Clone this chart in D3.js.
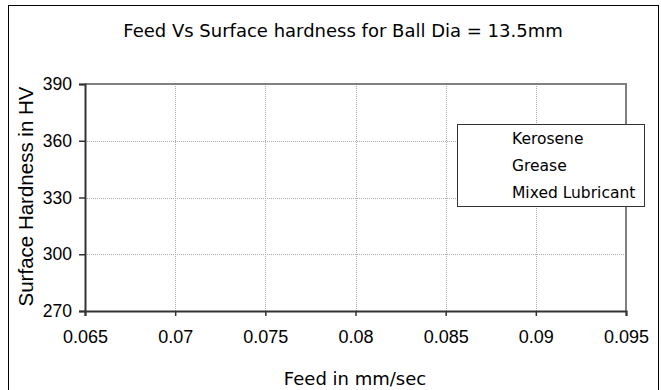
<!DOCTYPE html>
<html lang="en">
<head>
  <meta charset="UTF-8">
  <script src="https://cdn.jsdelivr.net/npm/d3@7"></script>
  <title>Feed Vs Surface hardness</title>
  <style>
    body { margin: 0; background: #fff; }
  </style>
</head>
<body>
  <svg class="svg" width="661" height="390"></svg>
  <script>
    // chart data (series are drawn without visible marks in the source)
    const seriesNames = ["Kerosene", "Grease", "Mixed Lubricant"]
    const xTicks = [0.065, 0.07, 0.075, 0.08, 0.085, 0.09, 0.095]
    const yTicks = [270, 300, 330, 360, 390]

    let svg = d3.select(".svg")
    let margin = ({top: 84, right: 35, bottom: 79, left: 85})
    let width = +svg.attr("width")
    let height = +svg.attr("height")

    // outer chart border
    svg.append("rect")
      .attr("x", 8.5).attr("y", 5.5)
      .attr("width", 650).attr("height", 400)
      .attr("fill", "none")
      .attr("stroke", "#000")
      .attr("stroke-width", 1)

    let x = d3.scaleLinear()
      .domain([0.065, 0.095])
      .range([margin.left, width - margin.right])

    let y = d3.scaleLinear()
      .domain([270, 390])
      .range([height - margin.bottom, margin.top])

    // gridlines
    let grid = svg.append("g")
      .attr("stroke", "#aaa")
      .attr("stroke-width", 1)
      .attr("stroke-dasharray", "1,1")
    grid.selectAll(".gy")
      .data(yTicks.slice(1, -1))
      .join("line")
      .attr("x1", x(0.065)).attr("x2", x(0.095))
      .attr("y1", d => Math.round(y(d)) + 0.5).attr("y2", d => Math.round(y(d)) + 0.5)
    grid.selectAll(".gx")
      .data(xTicks.slice(1, -1))
      .join("line")
      .attr("x1", d => Math.round(x(d)) + 0.5).attr("x2", d => Math.round(x(d)) + 0.5)
      .attr("y1", y(390)).attr("y2", y(270))

    // top and right border of plot area
    svg.append("path")
      .attr("d", `M${x(0.065)},${y(390)}H${x(0.095)}V${y(270)}`)
      .attr("fill", "none")
      .attr("stroke", "#808080")
      .attr("stroke-width", 2)

    let xAxis = g => g
      .attr("transform", `translate(0,${y(270)})`)
      .call(d3.axisBottom(x).tickValues(xTicks).tickFormat(d => d3.format("")(+d.toFixed(3))).tickSize(5).tickPadding(14))
      .call(g => g.select(".domain").attr("stroke", "#333").attr("stroke-width", 2))
      .call(g => g.selectAll(".tick line").attr("stroke", "#333").attr("stroke-width", 1.5))
      .call(g => g.selectAll("text").attr("fill", "#000").attr("font-family", "Liberation Sans, Arial, sans-serif").attr("font-size", 18))

    let yAxis = g => g
      .attr("transform", `translate(${x(0.065)},0)`)
      .call(d3.axisLeft(y).tickValues(yTicks).tickSize(6).tickPadding(7))
      .call(g => g.select(".domain").attr("stroke", "#333").attr("stroke-width", 2))
      .call(g => g.selectAll(".tick line").attr("stroke", "#333").attr("stroke-width", 1.5))
      .call(g => g.selectAll("text").attr("fill", "#000").attr("font-family", "Liberation Sans, Arial, sans-serif").attr("font-size", 17.5))

    svg.append("g").call(xAxis)
    svg.append("g").call(yAxis)

    // title
    svg.append("text")
      .attr("x", 343).attr("y", 37)
      .attr("text-anchor", "middle")
      .attr("font-family", "DejaVu Sans, Verdana, sans-serif")
      .attr("font-size", 18)
      .text("Feed Vs Surface hardness for Ball Dia = 13.5mm")

    // axis titles
    svg.append("text")
      .attr("x", 355).attr("y", 385)
      .attr("text-anchor", "middle")
      .attr("font-family", "DejaVu Sans, Verdana, sans-serif")
      .attr("font-size", 18)
      .text("Feed in mm/sec")

    svg.append("text")
      .attr("transform", `translate(33,${(y(270) + y(390)) / 2 - 1}) rotate(-90)`)
      .attr("text-anchor", "middle")
      .attr("font-family", "Liberation Sans, Arial, sans-serif")
      .attr("font-size", 20.5)
      .text("Surface Hardness in HV")

    // legend
    let legend = svg.append("g")
    legend.append("rect")
      .attr("x", 457.5).attr("y", 124.5)
      .attr("width", 187).attr("height", 82)
      .attr("fill", "#fff")
      .attr("stroke", "#333")
      .attr("stroke-width", 1)
    legend.selectAll("text")
      .data(seriesNames)
      .join("text")
      .attr("x", 512)
      .attr("y", (d, i) => 139 + i * 27)
      .attr("dy", "0.35em")
      .attr("font-family", "DejaVu Sans, Verdana, sans-serif")
      .attr("font-size", 15.5)
      .text(d => d)
  </script>
</body>
</html>
